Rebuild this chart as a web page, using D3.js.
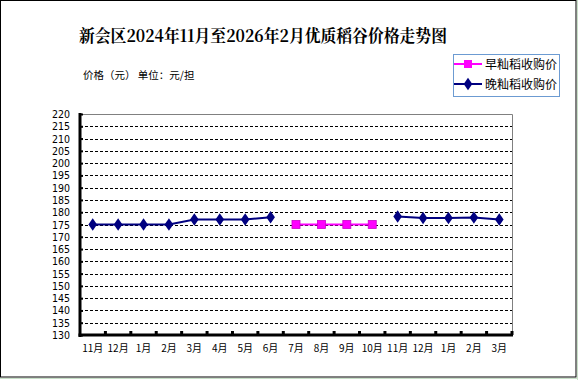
<!DOCTYPE html>
<html><head><meta charset="utf-8">
<script src="https://cdn.jsdelivr.net/npm/d3@7"></script>
<style>body{margin:0;background:#fff}svg{display:block}</style>
</head><body>
<script>
const title = "新会区2024年11月至2026年2月优质稻谷价格走势图";
const categories = ["11月","12月","1月","2月","3月","4月","5月","6月","7月","8月","9月","10月","11月","12月","1月","2月","3月"];
const earlyRice = [null,null,null,null,null,null,null,null,175,175,175,175,null,null,null,null,null];
const lateRice = [175,175,175,175,177,177,177,178,null,null,null,null,178.3,177.6,177.6,177.8,177];
const yTicks = d3.range(130, 221, 5);
const seriesNames = ["早籼稻收购价","晚籼稻收购价"];

const W = 578, H = 380;
const svg = d3.select("body").append("svg").attr("width", W).attr("height", H);
svg.append("rect").attr("x",0).attr("y",0).attr("width",W).attr("height",H).attr("fill","#fff");
svg.append("line").attr("x1",577.5).attr("x2",577.5).attr("y1",0).attr("y2",H).attr("stroke","#c8e0c8");
svg.append("line").attr("x1",0).attr("x2",W).attr("y1",378.5).attr("y2",378.5).attr("stroke","#c8e0c8");
svg.append("rect").attr("x",0.5).attr("y",0.5).attr("width",575.5).attr("height",376.5).attr("fill","#fff").attr("stroke","#000");

const m = {l:80, r:512, t:114, b:335};
const x = d3.scaleBand().domain(d3.range(categories.length)).range([m.l, m.r]);
const y = d3.scaleLinear().domain([130,220]).range([m.b, m.t]);

const font = "'Noto Sans CJK SC', sans-serif";
svg.append("text").attr("x",263).attr("y",42).attr("text-anchor","middle")
  .attr("font-family","'Noto Serif CJK SC','Noto Sans CJK SC',serif").attr("font-weight","bold").attr("font-size",17)
  .attr("textLength",368).attr("lengthAdjust","spacingAndGlyphs").text(title);
svg.append("text").attr("x",83).attr("y",79).attr("font-family",font).attr("font-size",10.5).text("价格（元） 单位：元/担");

const g = svg.append("g");
g.selectAll("line.grid").data(yTicks.filter(v=>v>130 && v<220)).join("line")
  .attr("x1",m.l).attr("x2",m.r).attr("y1",d=>Math.round(y(d))+0.5).attr("y2",d=>Math.round(y(d))+0.5)
  .attr("stroke","#000").attr("stroke-dasharray","3,2");
g.append("path").attr("d",`M${m.l},${m.t+0.5}H${m.r+0.5}V${m.b}`).attr("fill","none").attr("stroke","#808080");

const ya = svg.append("g").attr("transform",`translate(${m.l},0)`)
  .call(d3.axisRight(y).tickValues(yTicks).tickSize(3).tickFormat(""));
ya.select(".domain").remove();
ya.selectAll(".tick line").attr("stroke","#000").attr("stroke-width",2);
svg.append("line").attr("x1",m.l).attr("x2",m.l).attr("y1",m.t-1).attr("y2",m.b+2).attr("stroke","#000").attr("stroke-width",3);
svg.selectAll("text.yl").data(yTicks).join("text").attr("class","yl")
  .attr("x",70).attr("y",d=>y(d)+4).attr("text-anchor","end")
  .attr("font-family","'DejaVu Sans Condensed','Liberation Sans Narrow','Liberation Sans',sans-serif").attr("font-size",10.5)
  .text(d=>d);

const boundaries = d3.range(categories.length+1).map(i=> i<categories.length ? x(i) : m.r);
svg.selectAll("line.xt").data(boundaries.slice(1)).join("line")
  .attr("x1",d=>d).attr("x2",d=>d).attr("y1",m.b).attr("y2",m.b-4).attr("stroke","#000").attr("stroke-width",3);
svg.append("line").attr("x1",m.l-1.5).attr("x2",m.r+1).attr("y1",m.b).attr("y2",m.b).attr("stroke","#000").attr("stroke-width",3);
svg.selectAll("text.xl").data(categories).join("text").attr("class","xl")
  .attr("x",(d,i)=>x(i)+x.bandwidth()/2).attr("y",352).attr("text-anchor","middle")
  .attr("font-family",font).attr("font-size",10).text(d=>d);

const line = d3.line().defined(d=>d!=null).x((d,i)=>x(i)+x.bandwidth()/2).y(d=>y(d));
svg.append("path").datum(lateRice).attr("d",line).attr("fill","none").attr("stroke","#000080").attr("stroke-width",2);
svg.append("path").datum(earlyRice).attr("d",line).attr("fill","none").attr("stroke","#ff00ff").attr("stroke-width",2);
const diamond = d3.symbol().type(d3.symbolDiamond).size(45);
svg.selectAll("path.lm").data(lateRice.map((v,i)=>({v,i})).filter(d=>d.v!=null)).join("path").attr("class","lm")
  .attr("d",diamond).attr("transform",d=>`translate(${x(d.i)+x.bandwidth()/2},${y(d.v)}) scale(1.2,1)`).attr("fill","#000080");
svg.selectAll("rect.em").data(earlyRice.map((v,i)=>({v,i})).filter(d=>d.v!=null)).join("rect").attr("class","em")
  .attr("x",d=>x(d.i)+x.bandwidth()/2-4).attr("y",d=>y(d.v)-4).attr("width",8).attr("height",8)
  .attr("fill","#ff00ff").attr("stroke","#cc00cc").attr("stroke-width",0.8);

const lg = svg.append("g");
lg.append("rect").attr("x",453.5).attr("y",54.5).attr("width",106).attr("height",42).attr("fill","#fff").attr("stroke","#6c9bd2");
const lrow = [{c:"#ff00ff",y:64,t:seriesNames[0],sq:true},{c:"#000080",y:84,t:seriesNames[1],sq:false}];
lrow.forEach(r=>{
  lg.append("line").attr("x1",454).attr("x2",482).attr("y1",r.y).attr("y2",r.y).attr("stroke",r.c).attr("stroke-width",2);
  if(r.sq) lg.append("rect").attr("x",464).attr("y",r.y-4).attr("width",8).attr("height",8).attr("fill",r.c);
  else lg.append("path").attr("d",diamond).attr("transform",`translate(468,${r.y}) scale(1.2,1)`).attr("fill",r.c);
  lg.append("text").attr("x",485).attr("y",r.y+4.5).attr("font-family",font).attr("font-size",12).text(r.t);
});
</script>
</body></html>
